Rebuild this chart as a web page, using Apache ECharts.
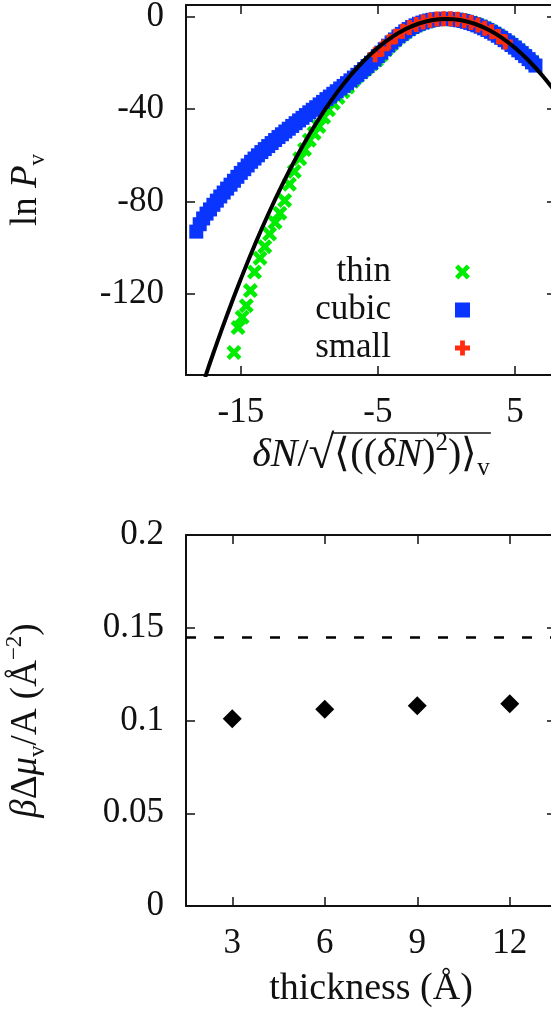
<!DOCTYPE html>
<html>
<head>
<meta charset="utf-8">
<script src="https://cdn.jsdelivr.net/npm/echarts@6/dist/echarts.min.js"></script>
<style>
  html, body { margin: 0; padding: 0; background: #fff; }
  #main { width: 551px; height: 1022px; }
</style>
</head>
<body>
<div id="main"></div>
<script>
// top panel: ln P_v against the scaled fluctuation
const thinPts = [[-15.5,-145.3],[-15.2,-134.5],[-14.9,-130],[-14.6,-125],[-14.3,-118.5],[-14.0,-110.5],[-13.6,-104.5],[-13.25,-99.5],[-12.9,-94],[-12.5,-89],[-12.15,-85],[-11.8,-79.5],[-11.45,-72.5],[-11.1,-67],[-10.7,-61.5],[-10.35,-57.5],[-10.0,-53.5],[-9.65,-50.5],[-9.3,-47.5],[-8.95,-43.5],[-8.6,-40.3],[-8.25,-37.5],[-7.9,-35],[-7.55,-32.5],[-7.2,-30.5],[-6.85,-28],[-6.5,-25.8],[-6.15,-24],[-5.8,-22.2],[-5.45,-20.5],[-5.1,-18.8],[-4.75,-16.6],[-4.4,-14.3],[-4.05,-12.2],[-3.7,-10.2],[-3.35,-8.4],[-3.0,-6.9],[-2.65,-5.5],[-2.3,-4.3],[-1.95,-3.3],[-1.6,-2.5],[-1.25,-1.9],[-0.9,-1.4],[-0.55,-1.1],[-0.2,-1],[0.15,-1],[0.5,-1.1],[0.85,-1.4],[1.2,-1.7],[1.55,-2.2],[1.9,-2.8],[2.25,-3.5],[2.6,-4.3],[2.95,-5.3],[3.3,-6.4],[3.65,-7.6],[4.0,-8.9],[4.35,-10.3],[4.7,-11.8],[5.05,-13.4],[5.4,-15.1],[5.75,-16.9],[6.1,-18.8],[6.45,-20.8]]
const cubicPts = [[-18.25,-93],[-18.0,-89.8],[-17.75,-87.3],[-17.5,-85.2],[-17.25,-83.4],[-17.0,-81.4],[-16.75,-79.6],[-16.5,-77.8],[-16.25,-76.1],[-16.0,-74.4],[-15.75,-72.7],[-15.5,-71],[-15.25,-69.3],[-15.0,-67.6],[-14.75,-66],[-14.5,-64.4],[-14.25,-62.8],[-14.0,-61.4],[-13.75,-60],[-13.5,-58.6],[-13.25,-57.3],[-13.0,-56],[-12.75,-54.7],[-12.5,-53.4],[-12.25,-52.1],[-12.0,-50.9],[-11.75,-49.7],[-11.5,-48.5],[-11.25,-47.3],[-11.0,-46.1],[-10.75,-44.9],[-10.5,-43.8],[-10.25,-42.6],[-10.0,-41.4],[-9.75,-40.3],[-9.5,-39.2],[-9.25,-38],[-9.0,-36.9],[-8.75,-35.7],[-8.5,-34.6],[-8.25,-33.4],[-8.0,-32.3],[-7.75,-31.1],[-7.5,-30],[-7.25,-28.8],[-7.0,-27.6],[-6.75,-26.4],[-6.5,-25.2],[-6.25,-24],[-6.0,-22.7],[-5.75,-21.4],[-5.5,-20],[-5.25,-18.6],[-5.0,-17.1],[-4.75,-15.6],[-4.5,-14.1],[-4.25,-12.6],[-4.0,-11.2],[-3.75,-9.9],[-3.5,-8.6],[-3.25,-7.5],[-3.0,-6.4],[-2.75,-5.4],[-2.5,-4.5],[-2.25,-3.8],[-2.0,-3.1],[-1.75,-2.6],[-1.5,-2.1],[-1.25,-1.7],[-1.0,-1.4],[-0.75,-1.2],[-0.5,-1.05],[-0.25,-1],[0,-1],[0.25,-1.05],[0.5,-1.15],[0.75,-1.35],[1.0,-1.6],[1.25,-1.9],[1.5,-2.3],[1.75,-2.75],[2.0,-3.25],[2.25,-3.8],[2.5,-4.4],[2.75,-5.1],[3.0,-5.8],[3.25,-6.6],[3.5,-7.4],[3.75,-8.3],[4.0,-9.2],[4.25,-10.2],[4.5,-11.2],[4.75,-12.3],[5.0,-13.4],[5.25,-14.6],[5.5,-15.8],[5.75,-17.1],[6.0,-18.4],[6.25,-19.8],[6.5,-21.2]]
const smallPts = [[-5.2,-16.5],[-4.7,-14],[-4.2,-11],[-3.7,-8.5],[-3.2,-6.4],[-2.7,-4.7],[-2.2,-3.4],[-1.7,-2.3],[-1.2,-1.6],[-0.7,-1.1],[-0.2,-0.9],[0.3,-0.9],[0.8,-1.2],[1.3,-1.8],[1.8,-2.6],[2.3,-3.7],[2.8,-5],[3.3,-6.6],[3.8,-8.6],[4.3,-11]]
const fitPts = [[-17.6,-155.9],[-17,-145.5],[-16,-129],[-15,-113.5],[-14,-99],[-13,-85.5],[-12,-73],[-11,-61.5],[-10,-51],[-9,-41.5],[-8,-33],[-7,-25.5],[-6,-19],[-5,-13.5],[-4,-9],[-3,-5.5],[-2,-3],[-1,-1.5],[0,-1],[1,-1.5],[2,-3],[3,-5.5],[4,-9],[5,-13.5],[6,-19],[7,-25.5],[8,-33]]
const topXTicks = [-15, -5, 5]
const topYTicks = [0, -40, -80, -120]

// bottom panel: slope against thickness
const thickness = [3, 6, 9, 12]
const slope = [0.101, 0.106, 0.108, 0.109]
const slopeRef = 0.145
const botXTicks = [3, 6, 9, 12]

const serif = 'Liberation Serif'
const ink = '#111'
const xPath = 'path://M0,2.2L2.2,0L5,2.8L7.8,0L10,2.2L7.2,5L10,7.8L7.8,10L5,7.2L2.2,10L0,7.8L2.8,5Z'
const plusPath = 'path://M3.4,0H6.6V3.4H10V6.6H6.6V10H3.4V6.6H0V3.4H3.4Z'

// layout of the two frames
const plotLeft = 186
const plotWidth = 370
const topGap = 44

function frameAxis(extra) {
    return Object.assign({
        axisLine: {show: true, onZero: false, lineStyle: {color: ink, width: 2}},
        axisTick: {show: true, inside: true, length: 9, lineStyle: {color: ink, width: 1.5}},
        axisLabel: {show: false},
        splitLine: {show: false}
    }, extra)
}

function labelStyle(margin) {
    return {show: true, margin: margin, color: ink, fontFamily: serif, fontSize: 35}
}

const nameRich = {
    r: {fontFamily: serif, fontSize: 37, color: ink},
    i: {fontFamily: serif, fontSize: 37, fontStyle: 'italic', color: ink},
    sub: {fontFamily: serif, fontSize: 23, color: ink, verticalAlign: 'bottom', lineHeight: 46},
    sup: {fontFamily: serif, fontSize: 23, color: ink, verticalAlign: 'top', lineHeight: 46}
}

const rootRich = {
    r: {fontFamily: serif, fontSize: 40, color: ink},
    i: {fontFamily: serif, fontSize: 40, fontStyle: 'italic', color: ink},
    rad: {fontFamily: serif, fontSize: 47, color: ink},
    sub: {fontFamily: serif, fontSize: 25, color: ink, verticalAlign: 'bottom', lineHeight: 50},
    sup: {fontFamily: serif, fontSize: 25, color: ink, verticalAlign: 'top', lineHeight: 50}
}

// pieces of the top x title, so the root's bar can be placed over the radicand
const rootTitle = [
    ['i', 'δN'], ['r', '/'], ['rad', '√'], ['r', '⟨(('], ['i', 'δN'], ['r', ')'], ['sup', '2'], ['r', ')⟩'], ['sub', 'v']
]

function pieceWidth(ctx, piece) {
    const st = rootRich[piece[0]]
    ctx.font = (st.fontStyle === 'italic' ? 'italic ' : '') + st.fontSize + 'px ' + st.fontFamily
    return ctx.measureText(piece[1]).width
}

function rootBar() {
    const ctx = document.createElement('canvas').getContext('2d')
    const widths = rootTitle.map(p => pieceWidth(ctx, p))
    const total = widths.reduce((a, b) => a + b, 0)
    const start = plotLeft + plotWidth / 2 - total / 2
    const barStart = start + widths[0] + widths[1] + widths[2] * 0.9
    const y = 375 + topGap + 25 - 11
    return {x1: barStart, y1: y, x2: start + total + 1, y2: y}
}

let option = {
    animation: false,
    backgroundColor: '#fff',
    grid: [
        {left: plotLeft, top: 5, width: plotWidth, height: 370, outerBoundsMode: 'none', containLabel: false},
        {left: plotLeft, top: 535, width: plotWidth, height: 371, outerBoundsMode: 'none', containLabel: false}
    ],
    legend: {
        orient: 'vertical',
        right: 81,
        top: 254,
        padding: 0,
        align: 'right',
        itemWidth: 15,
        itemHeight: 15,
        itemGap: 2,
        selectedMode: false,
        textStyle: {fontFamily: serif, fontSize: 35, color: ink, lineHeight: 36, padding: [0, 59, 0, 0]},
        data: [
            {name: 'thin', icon: xPath},
            {name: 'cubic', icon: 'rect'},
            {name: 'small', icon: plusPath}
        ]
    },
    graphic: [{
        type: 'line',
        silent: true,
        shape: rootBar(),
        style: {stroke: ink, lineWidth: 1.7}
    }],
    xAxis: [
        frameAxis({
            gridIndex: 0, type: 'value', position: 'bottom', min: -19, max: 8,
            axisTick: {show: true, inside: true, length: 9, customValues: topXTicks, lineStyle: {color: ink, width: 1.5}},
            axisLabel: Object.assign(labelStyle(20), {customValues: topXTicks}),
            name: rootTitle.map(p => '{' + p[0] + '|' + p[1] + '}').join(''),
            nameLocation: 'middle',
            nameGap: topGap,
            nameTextStyle: {rich: rootRich}
        }),
        frameAxis({
            gridIndex: 0, type: 'value', position: 'top', min: -19, max: 8,
            axisTick: {show: true, inside: true, length: 9, customValues: topXTicks, lineStyle: {color: ink, width: 1.5}}
        }),
        frameAxis({
            gridIndex: 1, type: 'value', position: 'bottom', min: 1.5, max: 13.5,
            axisTick: {show: true, inside: true, length: 9, customValues: botXTicks, lineStyle: {color: ink, width: 1.5}},
            axisLabel: Object.assign(labelStyle(20), {customValues: botXTicks}),
            name: '{r|thickness (Å)}',
            nameLocation: 'middle',
            nameGap: 64,
            nameTextStyle: {rich: {r: {fontFamily: serif, fontSize: 38, color: ink}}}
        }),
        frameAxis({
            gridIndex: 1, type: 'value', position: 'top', min: 1.5, max: 13.5,
            axisTick: {show: true, inside: true, length: 9, customValues: botXTicks, lineStyle: {color: ink, width: 1.5}}
        })
    ],
    yAxis: [
        frameAxis({
            gridIndex: 0, type: 'value', position: 'left', min: -155, max: 5,
            axisTick: {show: true, inside: true, length: 9, customValues: topYTicks, lineStyle: {color: ink, width: 1.5}},
            axisLabel: Object.assign(labelStyle(22), {customValues: topYTicks}),
            name: '{r|ln }{i|P}{sub|v}',
            nameLocation: 'middle',
            nameRotate: 90,
            nameGap: 137,
            nameTextStyle: {rich: nameRich}
        }),
        frameAxis({
            gridIndex: 0, type: 'value', position: 'right', min: -155, max: 5,
            axisTick: {show: true, inside: true, length: 9, customValues: topYTicks, lineStyle: {color: ink, width: 1.5}}
        }),
        frameAxis({
            gridIndex: 1, type: 'value', position: 'left', min: 0, max: 0.2, interval: 0.05,
            axisLabel: labelStyle(22),
            name: '{i|β}{r|Δ}{i|μ}{sub|v}{r|/A (Å}{sup|−2}{r|)}',
            nameLocation: 'middle',
            nameRotate: 90,
            nameGap: 137,
            nameTextStyle: {rich: nameRich}
        }),
        frameAxis({
            gridIndex: 1, type: 'value', position: 'right', min: 0, max: 0.2, interval: 0.05
        })
    ],
    series: [
        {
            name: 'thin',
            type: 'scatter',
            xAxisIndex: 0, yAxisIndex: 0,
            symbol: xPath,
            symbolSize: 15,
            itemStyle: {color: '#00ec00', opacity: 1},
            data: thinPts
        },
        {
            name: 'cubic',
            type: 'scatter',
            xAxisIndex: 0, yAxisIndex: 0,
            symbol: 'rect',
            symbolSize: 14,
            itemStyle: {color: '#0a35ff', opacity: 1},
            data: cubicPts
        },
        {
            name: 'small',
            type: 'scatter',
            xAxisIndex: 0, yAxisIndex: 0,
            symbol: plusPath,
            symbolSize: 15,
            itemStyle: {color: '#ff2d10', opacity: 1},
            data: smallPts
        },
        {
            name: 'fit',
            type: 'line',
            xAxisIndex: 0, yAxisIndex: 0,
            smooth: true,
            showSymbol: false,
            z: 5,
            lineStyle: {color: '#000', width: 4},
            data: fitPts
        },
        {
            name: 'slope',
            type: 'scatter',
            xAxisIndex: 2, yAxisIndex: 2,
            symbol: 'diamond',
            symbolSize: 19,
            itemStyle: {color: '#000', opacity: 1},
            data: thickness.map((t, i) => [t, slope[i]]),
            markLine: {
                silent: true,
                symbol: 'none',
                precision: 3,
                label: {show: false},
                lineStyle: {color: '#000', width: 2.5, type: [10, 18]},
                data: [{yAxis: slopeRef}]
            }
        }
    ]
}

const chart = echarts.init(document.getElementById('main'), null, {renderer: 'canvas'})
chart.setOption(option)
</script>
</body>
</html>
